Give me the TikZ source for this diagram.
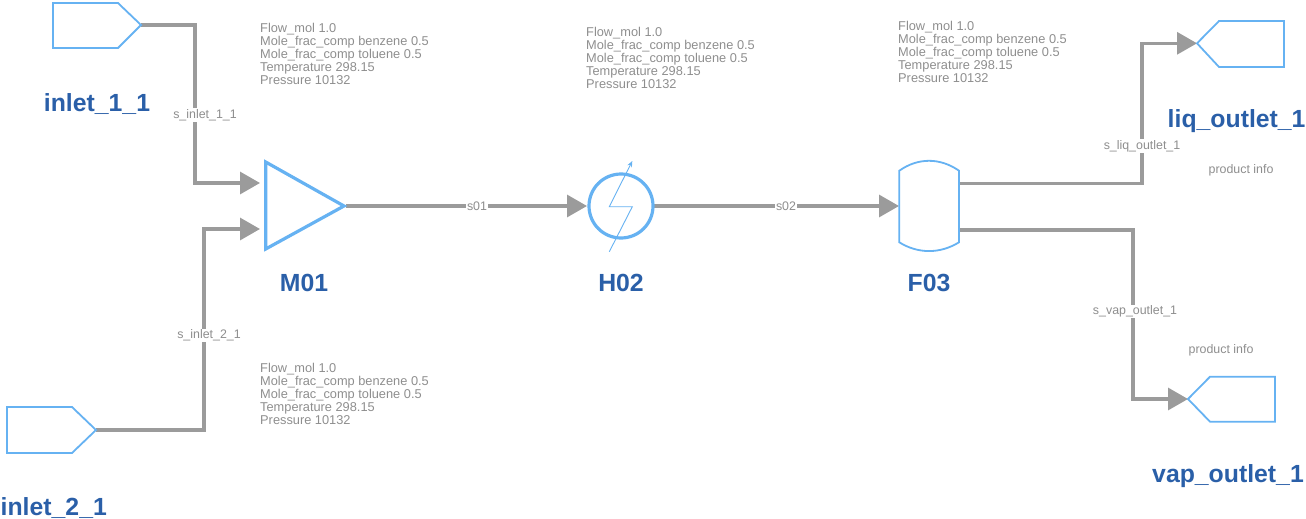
\documentclass[tikz,border=0pt]{standalone}
\usepackage{fontspec}
\setmainfont{Liberation Sans}
\usetikzlibrary{arrows.meta}
\definecolor{unitblue}{HTML}{66B2F2}
\definecolor{labelblue}{HTML}{2A5FA8}
\definecolor{pipegray}{HTML}{9B9B9B}
\definecolor{infogray}{HTML}{8E8E8E}
\tikzset{
  unit/.style={draw=unitblue,line width=1.8pt,line join=miter,fill=white},
  unitbold/.style={draw=unitblue,line width=3.2pt,line join=miter,fill=white},
  stream/.style={draw=pipegray,line width=3.2pt,line join=miter},
  streamtip/.style={stream,-{Triangle[length=20pt,width=22pt]}},
  streamlabel/.style={fill=white,text=infogray,font=\fontsize{12.4}{13}\selectfont,inner sep=1pt},
  unitname/.style={text=labelblue,font=\fontsize{24.8}{26}\selectfont\bfseries,inner sep=0pt},
  info/.style={text=infogray,font=\fontsize{12.8}{12.9}\selectfont,align=left,anchor=north west,inner sep=0pt},
}
\newcommand{\infotext}{Flow\_mol 1.0\\Mole\_frac\_comp benzene 0.5\\Mole\_frac\_comp toluene 0.5\\Temperature 298.15\\Pressure 10132}
\begin{document}
\begin{tikzpicture}[x=1pt,y=-1pt]
\useasboundingbox (0,0) rectangle (1306,519);
\clip (0,0) rectangle (1306,519);
% ports
\coordinate (i1out) at (141,25);
\coordinate (i2out) at (96,430);
\coordinate (m1a) at (260,183);
\coordinate (m1b) at (260,229);
\coordinate (mout) at (346,206);
\coordinate (hin) at (587,206);
\coordinate (hout) at (654,206);
\coordinate (fin) at (899,206);
\coordinate (fliq) at (960,183.5);
\coordinate (fvap) at (960,230);
\coordinate (liqin) at (1197,43.3);
\coordinate (vapin) at (1188,399);
% connectors
\draw[streamtip] (i1out) -| (195,183) -- (m1a);
\draw[streamtip] (i2out) -| (204,229) -- (m1b);
\draw[streamtip] (mout) -- (hin);
\draw[streamtip] (hout) -- (fin);
\draw[streamtip] (fliq) -| (1142,43.3) -- (liqin);
\draw[streamtip] (fvap) -| (1133,399) -- (vapin);
% units
\draw[unit] (53,3) -- (118,3) -- (i1out) -- (118,48) -- (53,48) -- cycle;
\draw[unit] (7,407) -- (72,407) -- (i2out) -- (72,453) -- (7,453) -- cycle;
\draw[unit] (liqin) -- (1219,21) -- (1284,21) -- (1284,67) -- (1219,67) -- cycle;
\draw[unit] (vapin) -- (1210,376.7) -- (1275,376.7) -- (1275,421.7) -- (1210,421.7) -- cycle;
\draw[unitbold] (265.7,162) -- (344,206) -- (265.7,249) -- cycle;
\draw[unitbold] (621,206) circle (32);
\draw[draw=unitblue,line width=0.9pt,-{Stealth[length=6pt,width=5pt]}] (609.3,251.7) -- (632.3,206.7) -- (609.3,206.7) -- (632.3,161);
\draw[unit] (899.3,170.7) .. controls (918,157.5) and (940,157.5) .. (959,170.7) -- (959,242.3) .. controls (940,254) and (918,254) .. (899.3,242.3) -- cycle;
% stream labels
\node[streamlabel] (ls1) at (205,115) {s\_inlet\_1\_1};
\node[streamlabel] (ls2) at (209,335.5) {s\_inlet\_2\_1};
\node[streamlabel] (ls3) at (477,206) {s01};
\node[streamlabel] (ls4) at (786,206) {s02};
\node[streamlabel] (ls5) at (1142,146) {s\_liq\_outlet\_1};
\node[streamlabel] (ls6) at (1135,311.5) {s\_vap\_outlet\_1};
% unit names
\node[unitname] (n1) at (97,104) {inlet\_1\_1};
\node[unitname,anchor=west] (n2) at (0.5,508) {inlet\_2\_1};
\node[unitname] (n3) at (304,283) {M01};
\node[unitname] (n4) at (621,283) {H02};
\node[unitname] (n5) at (929,283) {F03};
\node[unitname,anchor=west] (n6) at (1167.5,121) {liq\_outlet\_1};
\node[unitname,anchor=west] (n7) at (1152,476) {vap\_outlet\_1};
% info
\node[info] (t1) at (260,23.5) {\infotext};
\node[info] (t2) at (586,27.5) {\infotext};
\node[info] (t3) at (898,21.5) {\infotext};
\node[info] (t4) at (260,363.5) {\infotext};
\node[streamlabel,fill=none] (p1) at (1241,170) {product info};
\node[streamlabel,fill=none] (p2) at (1221,350.5) {product info};
\end{tikzpicture}
\end{document}
